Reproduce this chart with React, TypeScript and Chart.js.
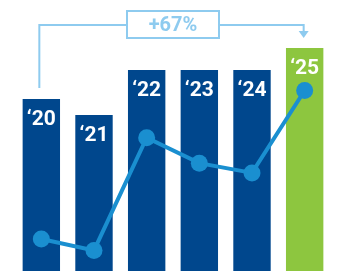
import React, { useEffect, useRef } from "react";
import { Chart, registerables } from "chart.js";

Chart.register(...registerables);

const categories = ["‘20", "‘21", "‘22", "‘23", "‘24", "‘25"];
const barValues = [63.5, 57.6, 74.2, 74.2, 74.2, 82.3];
const lineValues = [11.8, 7.6, 49.2, 39.8, 36.2, 66.6];
const growthLabel = "+67%";

const BAR_BLUE = "#00478D";
const BAR_GREEN = "#8DC63F";
const LINE_BLUE = "#1A8FD0";
const ANNOT = "#8ECBEF";

const labelPlugin = {
  id: "barLabels",
  afterDatasetsDraw(chart: any) {
    const ctx = chart.ctx;
    const meta = chart.getDatasetMeta(1);
    ctx.save();
    ctx.fillStyle = "#FFFFFF";
    ctx.font = "bold 21px Roboto, 'Open Sans', sans-serif";
    ctx.textAlign = "center";
    ctx.textBaseline = "alphabetic";
    meta.data.forEach((bar: any, i: number) => {
      ctx.fillText(categories[i], bar.x, bar.y + 26);
    });
    ctx.restore();
  },
};

const annotationPlugin = {
  id: "growthBracket",
  afterDraw(chart: any) {
    const ctx = chart.ctx;
    const xs = chart.scales.x;
    const xL = xs.getPixelForValue(0) - 2;
    const xR = xs.getPixelForValue(categories.length - 1) - 1;
    const yTop = 25;
    const boxL = 127, boxR = 219, boxT = 11, boxB = 38;
    ctx.save();
    ctx.strokeStyle = ANNOT;
    ctx.lineWidth = 2;
    ctx.beginPath();
    ctx.moveTo(xL, 88);
    ctx.lineTo(xL, yTop);
    ctx.lineTo(boxL, yTop);
    ctx.moveTo(boxR, yTop);
    ctx.lineTo(xR, yTop);
    ctx.lineTo(xR, 32);
    ctx.stroke();
    ctx.strokeRect(boxL, boxT, boxR - boxL, boxB - boxT);
    ctx.fillStyle = ANNOT;
    ctx.beginPath();
    ctx.moveTo(xR - 5, 31);
    ctx.lineTo(xR + 5, 31);
    ctx.lineTo(xR, 38);
    ctx.closePath();
    ctx.fill();
    ctx.font = "bold 20px Roboto, 'Open Sans', sans-serif";
    ctx.textAlign = "center";
    ctx.textBaseline = "middle";
    ctx.fillText(growthLabel, (boxL + boxR) / 2, (boxT + boxB) / 2 + 1);
    ctx.restore();
  },
};

export default function App() {
  const ref = useRef<HTMLCanvasElement>(null);
  useEffect(() => {
    if (!ref.current) return;
    const chart = new Chart(ref.current, {
      type: "bar",
      data: {
        labels: categories,
        datasets: [
          {
            type: "line",
            data: lineValues,
            borderColor: LINE_BLUE,
            backgroundColor: LINE_BLUE,
            borderWidth: 4,
            pointRadius: 8.5,
            pointBackgroundColor: LINE_BLUE,
            pointBorderWidth: 0,
            tension: 0,
            clip: false,
            order: 0,
          } as any,
          {
            type: "bar",
            data: barValues,
            backgroundColor: categories.map((_, i) =>
              i === categories.length - 1 ? BAR_GREEN : BAR_BLUE
            ),
            borderWidth: 0,
            barPercentage: 0.71,
            categoryPercentage: 1,
            order: 1,
          },
        ],
      },
      options: {
        responsive: false,
        animation: false,
        layout: { autoPadding: false, padding: { left: 15, right: 7, top: 0, bottom: 0 } },
        plugins: { legend: { display: false }, tooltip: { enabled: false } },
        scales: {
          x: { display: false, offset: true },
          y: { display: false, min: 0, max: 100 },
        },
      },
      plugins: [labelPlugin, annotationPlugin],
    });
    return () => chart.destroy();
  }, []);
  return (
    <div style={{ position: "fixed", left: 0, top: 0, width: 338, height: 271, background: "#fff" }}>
      <canvas ref={ref} width={338} height={271} style={{ display: "block" }} />
    </div>
  );
}
